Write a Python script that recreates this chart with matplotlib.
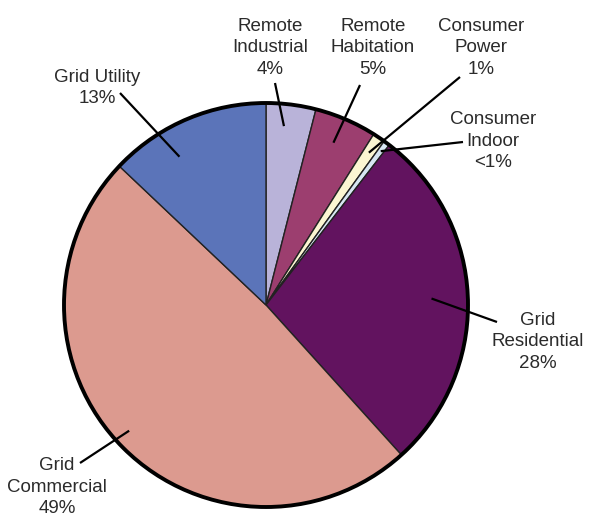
import numpy as np
import matplotlib.pyplot as plt
from matplotlib.patches import Circle

# market segments, clockwise from 12 o'clock
segments = ["Remote\nIndustrial", "Remote\nHabitation", "Consumer\nPower",
            "Consumer\nIndoor", "Grid\nResidential", "Grid\nCommercial",
            "Grid Utility"]
shares = [4, 5, 1, 0.5, 28, 49, 13]
share_labels = ["4%", "5%", "1%", "<1%", "28%", "49%", "13%"]
colors = ["#b9b3d9", "#9c3e6f", "#fbf6d2", "#d7e6f2", "#62135f",
          "#dc9a8f", "#5b74b9"]

W, H = 589, 528
cx, cy, R = 266, H - 305, 202

# label anchor (text centre) and leader-line outer end, in pixels from top-left
label_pos = [(270, 48), (373, 48), (481, 48), (493, 141),
             (538, 342), (57, 487), (97, 88)]
leader_end = [(275, 83), (360, 85), (460, 77), (463, 142),
              (497, 322), (80, 463), (120, 93)]
# where the leader starts inside its wedge: fraction along the arc, fraction of radius
leader_t = [0.4, 0.46, 0.5, 0.5, 0.5, 0.51, 0.35]
leader_r = [0.89, 0.87, 0.91, 0.95, 0.82, 0.92, 0.85]

plt.rcParams['font.family'] = ['Liberation Sans', 'DejaVu Sans']

fig = plt.figure(figsize=(W / 100, H / 100), dpi=100)
ax = fig.add_axes([0, 0, 1, 1])

wedges, _ = ax.pie(shares, colors=colors, startangle=90, counterclock=False,
                   center=(cx, cy), radius=R, frame=True,
                   wedgeprops=dict(edgecolor='#222222', linewidth=1.0))
ax.set_xlim(0, W)
ax.set_ylim(0, H)
ax.set_aspect('equal')
ax.axis('off')
ax.add_patch(Circle((cx, cy), R, fill=False, edgecolor='black', linewidth=2.8))

for w, name, pct, pos, end, t, fr in zip(wedges, segments, share_labels,
                                         label_pos, leader_end, leader_t, leader_r):
    # clockwise wedges: theta2 is where the wedge begins
    ang = np.deg2rad(w.theta2 - t * (w.theta2 - w.theta1))
    x0 = cx + fr * R * np.cos(ang)
    y0 = cy + fr * R * np.sin(ang)
    ax.plot([x0, end[0]], [y0, H - end[1]], color='black', lw=1.6,
            solid_capstyle='butt')
    ax.text(pos[0], H - pos[1], name + "\n" + pct, ha='center', va='center',
            fontsize=13.5, color='#2b2b2b', linespacing=1.36)

fig.savefig("out.png", dpi=100)
